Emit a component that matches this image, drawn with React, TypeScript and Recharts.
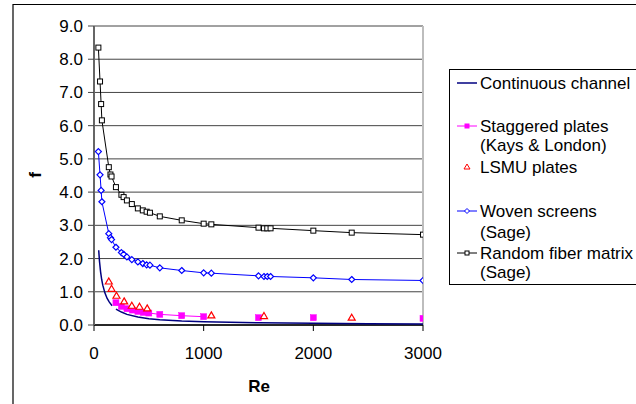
import React from 'react';
import { ComposedChart, Scatter, XAxis, YAxis, CartesianGrid, ReferenceLine } from 'recharts';

// ---- data ----
const reChannelA = [43, 50, 60, 70, 80, 100, 120, 140, 165];
const fChannelA = [2.25, 1.92, 1.6, 1.37, 1.2, 0.96, 0.8, 0.69, 0.58];
const reChannelB = [200, 250, 300, 400, 500, 600, 800, 1000, 1500, 2000, 2500, 3000];
const fChannelB = [0.48, 0.39, 0.32, 0.24, 0.19, 0.16, 0.12, 0.1, 0.065, 0.05, 0.04, 0.03];

const reStaggeredLine = [200, 250, 300, 350, 400, 450, 500, 600, 800, 1000];
const fStaggeredLine = [0.67, 0.56, 0.49, 0.45, 0.41, 0.38, 0.36, 0.32, 0.28, 0.25];
const reStaggeredPts = [1500, 2000, 3000];
const fStaggeredPts = [0.22, 0.22, 0.2];

const reLsmu = [135, 160, 205, 275, 345, 415, 485, 1070, 1550, 2350];
const fLsmu = [1.31, 1.09, 0.88, 0.71, 0.58, 0.55, 0.5, 0.29, 0.27, 0.22];

const reSage = [40, 55, 65, 72, 135, 150, 160, 200, 250, 270, 300, 345, 400, 445, 480, 510, 600, 800, 1000, 1070, 1500, 1550, 1580, 1610, 2000, 2350, 3000];
const fWoven = [5.22, 4.52, 4.05, 3.71, 2.75, 2.63, 2.57, 2.34, 2.18, 2.13, 2.05, 1.97, 1.9, 1.85, 1.81, 1.8, 1.72, 1.64, 1.57, 1.56, 1.48, 1.46, 1.46, 1.46, 1.42, 1.37, 1.34];
const fRandom = [8.35, 7.33, 6.65, 6.16, 4.75, 4.53, 4.47, 4.15, 3.92, 3.85, 3.75, 3.64, 3.51, 3.45, 3.41, 3.38, 3.27, 3.15, 3.05, 3.03, 2.93, 2.91, 2.91, 2.91, 2.84, 2.78, 2.72];

const xTicks = [0, 1000, 2000, 3000];
const yTicks = [0, 1, 2, 3, 4, 5, 6, 7, 8, 9];

const pts = (xs: number[], ys: number[]) => xs.map((x, i) => ({ x, y: ys[i] }));

const FONT = '"Liberation Sans", Arial, sans-serif';

const NoShape = () => <g />;
const HollowSquare = (p: any) => (
  <rect x={p.cx - 2.5} y={p.cy - 2.5} width={5} height={5} fill="#fff" stroke="#000" strokeWidth={1} />
);
const FilledSquare = (p: any) => (
  <rect x={p.cx - 3} y={p.cy - 3} width={6} height={6} fill="#ff00ff" stroke="#ff00ff" strokeWidth={0.5} />
);
const Diamond = (p: any) => (
  <polygon
    points={`${p.cx},${p.cy - 3} ${p.cx + 3},${p.cy} ${p.cx},${p.cy + 3} ${p.cx - 3},${p.cy}`}
    fill="#fff"
    stroke="#0000ff"
    strokeWidth={1.2}
  />
);
const Triangle = (p: any) => (
  <polygon
    points={`${p.cx},${p.cy - 3.5} ${p.cx + 3.5},${p.cy + 2.5} ${p.cx - 3.5},${p.cy + 2.5}`}
    fill="#fff"
    stroke="#ff0000"
    strokeWidth={1.2}
  />
);

const legendText = (x: number, y: number, s: string) => (
  <text x={x} y={y + 6} fontSize={17} fontFamily={FONT} fill="#000">{s}</text>
);

export default function App() {
  return (
    <div style={{ position: 'absolute', left: 0, top: 0, width: 636, height: 404, background: '#fff', overflow: 'hidden' }}>
      <ComposedChart
        width={636}
        height={404}
        margin={{ top: 26, right: 213, bottom: 49, left: 34 }}
        style={{ fontFamily: FONT }}
      >
        <CartesianGrid vertical={false} stroke="#444" strokeWidth={1} />
        <XAxis
          type="number"
          dataKey="x"
          domain={[0, 3000]}
          ticks={xTicks}
          height={30}
          tickSize={6}
          tickMargin={16}
          axisLine={{ stroke: '#000', strokeWidth: 1.5 }}
          tickLine={{ stroke: '#000' }}
          tick={{ fill: '#000', fontSize: 17, fontFamily: FONT }}
          allowDataOverflow
        />
        <YAxis
          type="number"
          dataKey="y"
          domain={[0, 9]}
          ticks={yTicks}
          width={60}
          tickSize={6}
          tickMargin={5}
          tickFormatter={(v: number) => v.toFixed(1)}
          axisLine={{ stroke: '#666', strokeWidth: 2 }}
          tickLine={{ stroke: '#444' }}
          tick={{ fill: '#000', fontSize: 17, fontFamily: FONT }}
          allowDataOverflow
        />
        <ReferenceLine x={3000} stroke="#bdbdbd" strokeWidth={2} />
        <Scatter data={pts(reChannelA, fChannelA)} line={{ stroke: '#000080', strokeWidth: 1.5 }} shape={NoShape} isAnimationActive={false} />
        <Scatter data={pts(reChannelB, fChannelB)} line={{ stroke: '#000080', strokeWidth: 1.5 }} shape={NoShape} isAnimationActive={false} />
        <Scatter data={pts(reStaggeredLine, fStaggeredLine)} line={{ stroke: '#ff00ff', strokeWidth: 1 }} shape={FilledSquare} isAnimationActive={false} />
        <Scatter data={pts(reStaggeredPts, fStaggeredPts)} shape={FilledSquare} isAnimationActive={false} />
        <Scatter data={pts(reLsmu, fLsmu)} shape={Triangle} isAnimationActive={false} />
        <Scatter data={pts(reSage, fWoven)} line={{ stroke: '#0000ff', strokeWidth: 1 }} shape={Diamond} isAnimationActive={false} />
        <Scatter data={pts(reSage, fRandom)} line={{ stroke: '#000', strokeWidth: 1 }} shape={HollowSquare} isAnimationActive={false} />
      </ComposedChart>
      <svg width={636} height={404} style={{ position: 'absolute', left: 0, top: 0, pointerEvents: 'none' }}>
        {/* outer chart frame */}
        <line x1={13} y1={4.5} x2={636} y2={4.5} stroke="#000" strokeWidth={1.2} />
        <line x1={13} y1={4} x2={13} y2={404} stroke="#000" strokeWidth={1.2} />
        {/* axis titles */}
        <text x={259} y={392} textAnchor="middle" fontSize={17} fontWeight="bold" fontFamily={FONT} fill="#000">Re</text>
        <text x={41} y={175} textAnchor="middle" fontSize={17} fontWeight="bold" fontFamily={FONT} fill="#000" transform="rotate(-90 41 175)">f</text>
        {/* legend */}
        <rect x={449.5} y={69.5} width={220} height={215} fill="none" stroke="#000" strokeWidth={1} />
        <line x1={457} y1={83} x2={477} y2={83} stroke="#000080" strokeWidth={1.5} />
        {legendText(480, 83, 'Continuous channel')}
        <line x1={457} y1={126} x2={477} y2={126} stroke="#ff00ff" strokeWidth={1} />
        <rect x={464.5} y={123.5} width={5} height={5} fill="#ff00ff" />
        {legendText(480, 126, 'Staggered plates')}
        {legendText(480, 145, '(Kays & London)')}
        <polygon points="467,164 470,169 464,169" fill="#fff" stroke="#ff0000" strokeWidth={1} />
        {legendText(480, 167, 'LSMU plates')}
        <line x1={457} y1={211} x2={477} y2={211} stroke="#0000ff" strokeWidth={1} />
        <polygon points="467,208.5 469.5,211 467,213.5 464.5,211" fill="#fff" stroke="#0000ff" strokeWidth={1} />
        {legendText(480, 211, 'Woven screens')}
        {legendText(480, 232, '(Sage)')}
        <line x1={457} y1={253} x2={477} y2={253} stroke="#000" strokeWidth={1} />
        <rect x={465} y={251} width={4} height={4} fill="#fff" stroke="#000" strokeWidth={1} />
        {legendText(480, 253, 'Random fiber matrix')}
        {legendText(480, 272, '(Sage)')}
      </svg>
    </div>
  );
}
